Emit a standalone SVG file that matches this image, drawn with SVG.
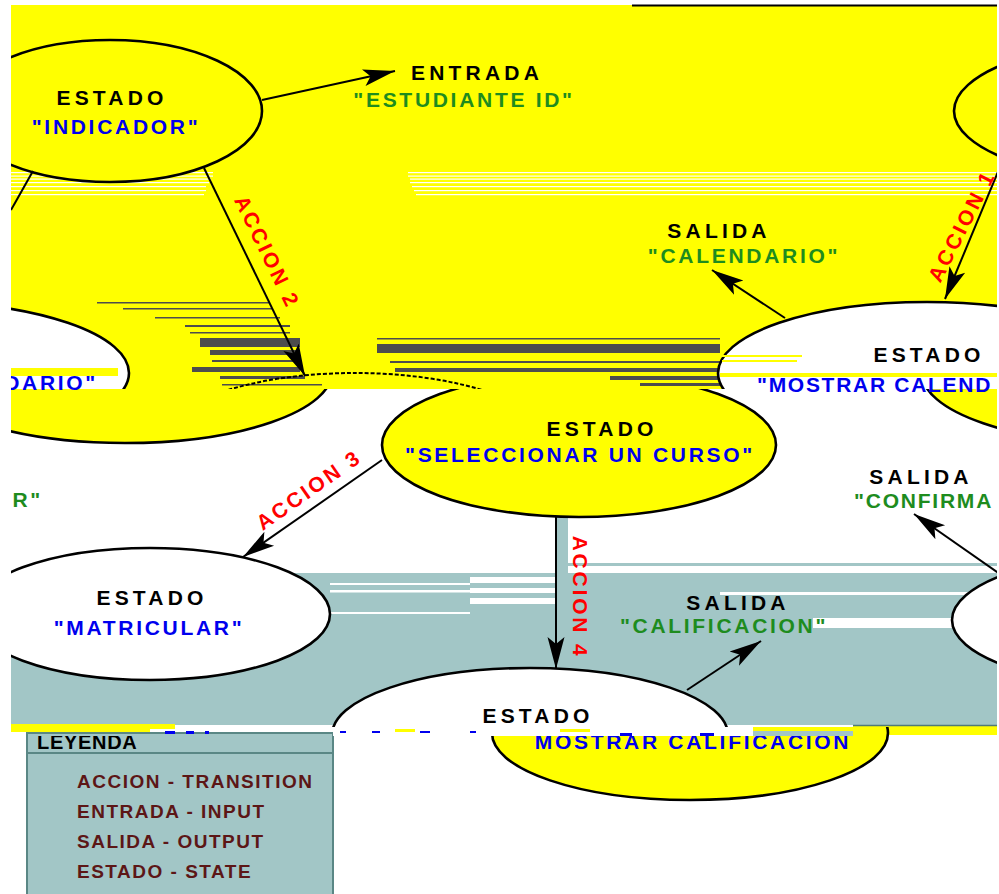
<svg xmlns="http://www.w3.org/2000/svg" width="999" height="894" viewBox="0 0 999 894">
  <style>
    text { font-family: "Liberation Sans", Arial, sans-serif; font-weight: bold; font-size: 21px; }
    .kind { fill: #000; letter-spacing: 4.2px; text-anchor: middle; }
    .name { fill: #0000ee; letter-spacing: 2.7px; text-anchor: middle; }
    .io { fill: #1e8c1e; letter-spacing: 2.7px; text-anchor: middle; }
    .act { fill: #ff0000; letter-spacing: 2.8px; text-anchor: middle; }
    .leg { fill: #5c1616; font-size: 19px; letter-spacing: 1.5px; }
    .state { stroke: #000; stroke-width: 2.6; }
    .wire { stroke: #000; stroke-width: 2; fill: none; }
    .arrow { marker-end: url(#ah); }
    .streak { fill: #4d4d4d; }
    .band { fill: #a2c6c6; }
  </style>
  <defs>
    <marker id="ah" markerUnits="userSpaceOnUse" markerWidth="34" markerHeight="20" refX="32" refY="10" orient="auto">
      <path d="M0,1.5 L32,10 L0,18.5 L7,10 Z" fill="#000"/>
    </marker>
    <clipPath id="page"><rect x="11" y="0" width="986" height="894"/></clipPath>
    <clipPath id="upper"><rect x="0" y="0" width="999" height="389"/></clipPath>
    <clipPath id="lower"><rect x="0" y="389" width="999" height="505"/></clipPath>
    <clipPath id="calUp"><rect x="0" y="600" width="999" height="127"/></clipPath>
    <clipPath id="calLow"><rect x="0" y="727" width="999" height="167"/></clipPath>
    <clipPath id="legTop"><rect x="27" y="736" width="306" height="20"/></clipPath>
  </defs>

  <rect width="999" height="894" fill="#fff"/>

  <g clip-path="url(#page)">
    <!-- upper field -->
    <rect x="11" y="5" width="986" height="384" fill="#ffff00"/>
    <line x1="632" y1="5.5" x2="997" y2="5.5" stroke="#000" stroke-width="2"/>

    <!-- thin white scan lines across the upper field -->
    <g fill="#fff">
      <rect x="11" y="172" width="202" height="1.2"/>
      <rect x="11" y="175.5" width="202" height="1.2"/>
      <rect x="11" y="178.5" width="200" height="1.2"/>
      <rect x="11" y="182" width="198" height="1.2"/>
      <rect x="11" y="186" width="195" height="1.2"/>
      <rect x="11" y="190" width="195" height="1.2"/>
      <rect x="11" y="194" width="193" height="1.2"/>
      <rect x="408" y="172" width="589" height="1.2"/>
      <rect x="408" y="175.5" width="589" height="1.2"/>
      <rect x="410" y="178.5" width="587" height="1.2"/>
      <rect x="410" y="182" width="587" height="1.2"/>
      <rect x="412" y="186" width="585" height="1.2"/>
      <rect x="414" y="190" width="583" height="1.2"/>
      <rect x="416" y="194" width="581" height="1.2"/>
    </g>

    <!-- dark streaks -->
    <g class="streak">
      <rect x="97" y="302" width="173" height="1.5"/>
      <rect x="123" y="308" width="150" height="1.5"/>
      <rect x="155" y="317" width="125" height="1.5"/>
      <rect x="185" y="325" width="105" height="2"/>
      <rect x="190" y="332" width="100" height="1.5"/>
      <rect x="200" y="338" width="100" height="9"/>
      <rect x="210" y="350" width="90" height="5"/>
      <rect x="212" y="360" width="88" height="2"/>
      <rect x="192" y="367" width="108" height="5"/>
      <rect x="220" y="376" width="85" height="3"/>
      <rect x="222" y="384" width="100" height="1.5"/>
      <rect x="377" y="338" width="343" height="1.5"/>
      <rect x="377" y="344" width="343" height="9"/>
      <rect x="390" y="361" width="330" height="2"/>
      <rect x="395" y="368" width="325" height="4"/>
      <rect x="610" y="376" width="110" height="4"/>
      <rect x="640" y="383" width="80" height="3"/>
    </g>

    <!-- teal field -->
    <rect class="band" x="11" y="573" width="546" height="152"/>
    <rect class="band" x="557" y="563" width="440" height="162"/>
    <rect class="band" x="557" y="517" width="11" height="46"/>
    <g fill="#fff">
      <rect x="568" y="566" width="429" height="7"/>
      <rect x="330" y="583" width="140" height="2"/>
      <rect x="330" y="590" width="140" height="2.5"/>
      <rect x="330" y="612" width="140" height="2"/>
      <rect x="470" y="577" width="85" height="6"/>
      <rect x="470" y="588" width="85" height="5"/>
      <rect x="470" y="598" width="85" height="6"/>
      <rect x="720" y="592" width="277" height="3"/>
      <rect x="813" y="618" width="139" height="10"/>
    </g>

    <!-- bottom seam -->
    <rect x="11" y="724" width="164" height="8" fill="#ffff00"/>
    <rect x="150" y="729" width="85" height="6" fill="#fff"/>
    <rect x="853" y="726" width="144" height="9" fill="#ffff00"/>
    <line x1="853" y1="725.5" x2="997" y2="725.5" stroke="#4f7a78" stroke-width="1.5"/>

    <!-- legend -->
    <g id="legend">
      <rect x="27" y="733" width="306" height="175" fill="#a2c6c6" stroke="#5a8785" stroke-width="2"/>
      <line x1="27" y1="753" x2="333" y2="753" stroke="#5a8785" stroke-width="2"/>
      <text x="37" y="749" clip-path="url(#legTop)" style="font-size:20px;letter-spacing:0.7px">LEYENDA</text>
      <text class="leg" x="77" y="788">ACCION - TRANSITION</text>
      <text class="leg" x="77" y="818">ENTRADA - INPUT</text>
      <text class="leg" x="77" y="848">SALIDA - OUTPUT</text>
      <text class="leg" x="77" y="878">ESTADO - STATE</text>
    </g>
    <g fill="#0000ee">
      <rect x="165" y="731" width="10" height="3"/>
      <rect x="186" y="731" width="8" height="3"/>
      <rect x="205" y="731" width="4" height="3"/>
    </g>

    <!-- states -->
    <g id="state-indicador">
      <ellipse class="state" cx="110" cy="111" rx="152" ry="71" fill="#ffff00"/>
      <text class="kind" x="112" y="105">ESTADO</text>
      <text class="name" x="116" y="134">"INDICADOR"</text>
    </g>

    <g id="state-top-right">
      <ellipse class="state" cx="1154" cy="111" rx="200" ry="71" fill="#ffff00"/>
    </g>

    <g id="state-calendario-left">
      <ellipse class="state" cx="-80" cy="373" rx="209" ry="71" fill="#fff" clip-path="url(#upper)"/>
      <rect x="11" y="368" width="107" height="8" fill="#ffff00"/>
      <ellipse class="state" cx="125" cy="372" rx="207" ry="71" fill="#ffff00" clip-path="url(#lower)"/>
      <text class="name" x="98" y="390" style="text-anchor:end">DARIO"</text>
    </g>

    <g id="state-mostrar-calendario">
      <ellipse class="state" cx="927" cy="373" rx="209" ry="71" fill="#fff" clip-path="url(#upper)"/>
      <g fill="#ffff00">
        <rect x="722" y="355" width="80" height="2"/>
        <rect x="722" y="360" width="75" height="2"/>
        <rect x="720" y="373" width="277" height="4"/>
      </g>
      <ellipse class="state" cx="1131" cy="373" rx="209" ry="71" fill="#ffff00" clip-path="url(#lower)"/>
      <text class="kind" x="929" y="362">ESTADO</text>
      <text class="name" x="757" y="392" style="text-anchor:start" textLength="236" lengthAdjust="spacing">"MOSTRAR CALEND</text>
    </g>

    <g id="state-seleccionar">
      <ellipse cx="355" cy="445" rx="197" ry="72" fill="none" stroke="#000" stroke-width="2" stroke-dasharray="4 2" clip-path="url(#upper)"/>
      <ellipse class="state" cx="579" cy="445" rx="197" ry="72" fill="#ffff00" clip-path="url(#lower)"/>
      <text class="kind" x="602" y="436">ESTADO</text>
      <text class="name" x="580" y="462">"SELECCIONAR UN CURSO"</text>
    </g>

    <g id="state-matricular">
      <ellipse class="state" cx="150" cy="614" rx="180" ry="66" fill="#fff"/>
      <text class="kind" x="152" y="605">ESTADO</text>
      <text class="name" x="149" y="635">"MATRICULAR"</text>
    </g>

    <g id="state-bottom-right">
      <ellipse class="state" cx="1150" cy="620" rx="198" ry="67" fill="#fff"/>
    </g>

    <g id="state-mostrar-calificacion">
      <ellipse class="state" cx="530" cy="735" rx="198" ry="67" fill="#fff" clip-path="url(#calUp)"/>
      <ellipse class="state" cx="690" cy="733" rx="198" ry="67" fill="#ffff00" clip-path="url(#calLow)"/>
      <text class="kind" x="538" y="723">ESTADO</text>
      <text class="name" x="693" y="749">MOSTRAR CALIFICACION</text>
      <rect x="333" y="727" width="420" height="9" fill="#fff"/>
      <rect x="753" y="731" width="100" height="5" fill="#a2c6c6"/>
      <g fill="#0000ee">
        <rect x="340" y="731" width="6" height="2"/>
        <rect x="372" y="731" width="8" height="2"/>
        <rect x="420" y="731" width="10" height="2"/>
        <rect x="470" y="731" width="6" height="2"/>
        <rect x="620" y="733" width="12" height="3"/>
        <rect x="700" y="733" width="14" height="3"/>
      </g>
      <g fill="#ffff00">
        <rect x="395" y="729" width="20" height="3"/>
        <rect x="560" y="729" width="30" height="3"/>
      </g>
    </g>

    <!-- transitions, inputs and outputs -->
    <g id="connectors">
      <path class="wire arrow" d="M262,100 L395,71"/>
      <path class="wire arrow" d="M204,168 L305,376"/>
      <path class="wire" d="M33,171 L11,210"/>
      <path class="wire arrow" d="M1005,155 L945,299"/>
      <path class="wire arrow" d="M785,318 L712,270"/>
      <path class="wire arrow" d="M382,460 L243,557"/>
      <path class="wire arrow" d="M556,517 L556,669"/>
      <path class="wire arrow" d="M687,690 L761,641"/>
      <path class="wire arrow" d="M1000,574 L914,514"/>
    </g>

    <g id="labels">
      <text class="kind" x="477" y="80">ENTRADA</text>
      <text class="io" x="464" y="107">"ESTUDIANTE ID"</text>
      <text class="kind" x="719" y="238">SALIDA</text>
      <text class="io" x="744" y="263">"CALENDARIO"</text>
      <text class="kind" x="921" y="484">SALIDA</text>
      <text class="io" x="854" y="508" style="text-anchor:start" textLength="140" lengthAdjust="spacing">"CONFIRMA</text>
      <text class="io" x="43" y="507" style="text-anchor:end">R"</text>
      <text class="kind" x="738" y="610">SALIDA</text>
      <text class="io" x="724" y="633">"CALIFICACION"</text>
      <text class="act" transform="translate(267,252) rotate(64)" y="7">ACCION 2</text>
      <text class="act" transform="translate(962,226) rotate(-63)" y="7">ACCION 1</text>
      <text class="act" transform="translate(309,490) rotate(-35)" y="7">ACCION 3</text>
      <text class="act" transform="translate(580,597) rotate(90)" y="7">ACCION 4</text>
    </g>
  </g>
</svg>
